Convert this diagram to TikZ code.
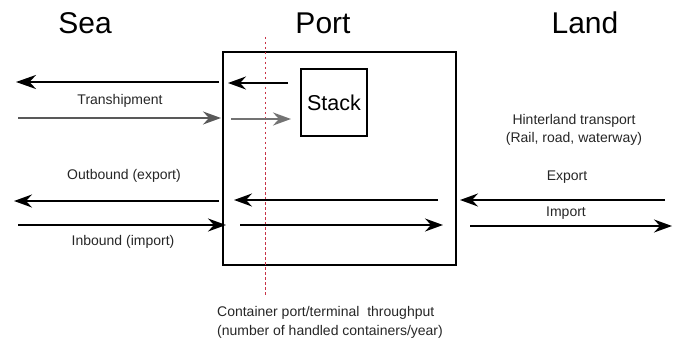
\documentclass[tikz,border=0pt]{standalone}
\usepackage{fontspec}
\setmainfont{Liberation Sans}
\usetikzlibrary{arrows.meta}
\definecolor{dotred}{RGB}{200,50,70}
\begin{document}
\begin{tikzpicture}[x=1pt,y=-1pt,
  tip/.style={-{Stealth[length=18pt,width=13pt,inset=6pt]}},
  flow/.style={line width=1.5pt,tip},
  flowthick/.style={line width=2.4pt,-{Stealth[length=20pt,width=14pt,inset=6.5pt]}},
  grayflow/.style={line width=1.5pt,draw=black!65,tip},
  grayflowthick/.style={line width=2.6pt,draw=black!55,tip},
  title/.style={font=\fontsize{30}{33}\selectfont},
  lbl/.style={font=\fontsize{14}{16}\selectfont, text=black!85},
  box/.style={draw, line width=1.2pt}
]
\useasboundingbox (0,0) rectangle (677,342);
% titles
\node[title] (sea) at (85,23) {Sea};
\node[title] (port) at (323,23) {Port};
\node[title] (land) at (585,23) {Land};
% port box
\node[box, minimum width=233pt, minimum height=213pt, inner sep=0pt] (portbox) at (339.5,158.5) {};
% stack
\node[box, minimum width=66pt, minimum height=67pt, inner sep=0pt, font=\fontsize{21.5}{24}\selectfont] (stack) at (334,102.5) {Stack};
% red dotted line
\coordinate (rtop) at (265,37);
\coordinate (rbot) at (265,296);
\draw[dotred, line width=1pt, dash pattern=on 2.5pt off 2.5pt] (rtop) -- (rbot);
% transhipment
\coordinate (a1s) at (219,82); \coordinate (a1e) at (16,82);
\draw[flowthick] (a1s) -- (a1e);
\coordinate (a2s) at (288,83); \coordinate (a2e) at (228,83);
\draw[flow] (a2s) -- (a2e);
\node[lbl] (tranship) at (120,101) {Transhipment};
\coordinate (a3s) at (18,118); \coordinate (a3e) at (221,118);
\draw[grayflow] (a3s) -- (a3e);
\coordinate (a4s) at (231,119); \coordinate (a4e) at (291,119);
\draw[grayflowthick] (a4s) -- (a4e);
% hinterland
\node[lbl, align=center] (hinter) at (574,130) {Hinterland transport\\[2pt](Rail, road, waterway)};
% outbound
\node[lbl] (outb) at (124,176) {Outbound (export)};
\coordinate (b1s) at (219,201); \coordinate (b1e) at (14,201);
\draw[flow] (b1s) -- (b1e);
\coordinate (b2s) at (438,200); \coordinate (b2e) at (234,200);
\draw[flow] (b2s) -- (b2e);
\node[lbl] (exp) at (567,177) {Export};
\coordinate (b3s) at (665,200); \coordinate (b3e) at (460,200);
\draw[flow] (b3s) -- (b3e);
% inbound
\node[lbl] (imp) at (566,213) {Import};
\coordinate (c1s) at (18,225); \coordinate (c1e) at (226,225);
\draw[flow] (c1s) -- (c1e);
\coordinate (c2s) at (240,225); \coordinate (c2e) at (443,225);
\draw[flow] (c2s) -- (c2e);
\coordinate (c3s) at (470,226); \coordinate (c3e) at (672,226);
\draw[flow] (c3s) -- (c3e);
\node[lbl] (inb) at (123,242) {Inbound (import)};
% bottom caption
\node[lbl, align=left] (caption) at (330,322) {Container port/terminal \ throughput\\[3pt](number of handled containers/year)};
\end{tikzpicture}
\end{document}
